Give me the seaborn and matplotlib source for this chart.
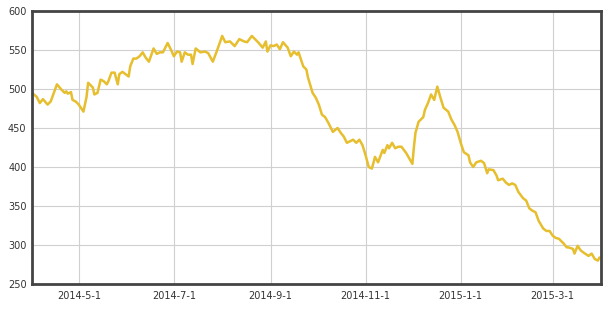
import matplotlib
matplotlib.use("Agg")
import matplotlib.pyplot as plt
import matplotlib.dates as mdates
import seaborn as sns
import pandas as pd

dates = [
    "2014-04-01", "2014-04-04", "2014-04-06", "2014-04-08", "2014-04-11", "2014-04-13",
    "2014-04-17", "2014-04-20", "2014-04-22", "2014-04-23", "2014-04-24", "2014-04-26",
    "2014-04-27", "2014-04-29", "2014-05-01", "2014-05-02", "2014-05-04", "2014-05-06",
    "2014-05-07", "2014-05-10", "2014-05-11", "2014-05-13", "2014-05-15", "2014-05-17",
    "2014-05-19", "2014-05-20", "2014-05-22", "2014-05-24", "2014-05-26", "2014-05-27",
    "2014-05-29", "2014-05-31", "2014-06-02", "2014-06-03", "2014-06-05", "2014-06-07",
    "2014-06-09", "2014-06-11", "2014-06-13", "2014-06-15", "2014-06-18", "2014-06-20",
    "2014-06-22", "2014-06-24", "2014-06-27", "2014-06-29", "2014-07-01", "2014-07-03",
    "2014-07-05", "2014-07-06", "2014-07-08", "2014-07-10", "2014-07-12", "2014-07-13",
    "2014-07-15", "2014-07-18", "2014-07-21", "2014-07-23", "2014-07-26", "2014-07-29",
    "2014-08-01", "2014-08-03", "2014-08-06", "2014-08-09", "2014-08-12", "2014-08-15",
    "2014-08-17", "2014-08-20", "2014-08-24", "2014-08-27", "2014-08-29", "2014-08-30",
    "2014-09-01", "2014-09-03", "2014-09-05", "2014-09-07", "2014-09-09", "2014-09-12",
    "2014-09-14", "2014-09-16", "2014-09-18", "2014-09-19", "2014-09-22", "2014-09-24",
    "2014-09-25", "2014-09-28", "2014-09-30", "2014-10-02", "2014-10-04", "2014-10-06",
    "2014-10-08", "2014-10-11", "2014-10-14", "2014-10-16", "2014-10-18", "2014-10-20",
    "2014-10-24", "2014-10-26", "2014-10-28", "2014-10-30", "2014-11-01", "2014-11-03",
    "2014-11-05", "2014-11-06", "2014-11-07", "2014-11-09", "2014-11-12", "2014-11-13",
    "2014-11-15", "2014-11-16", "2014-11-18", "2014-11-20", "2014-11-22", "2014-11-24",
    "2014-11-27", "2014-12-01", "2014-12-02", "2014-12-03", "2014-12-05", "2014-12-08",
    "2014-12-09", "2014-12-11", "2014-12-13", "2014-12-15", "2014-12-17", "2014-12-19",
    "2014-12-21", "2014-12-24", "2014-12-26", "2014-12-28", "2014-12-30", "2015-01-01",
    "2015-01-03", "2015-01-06", "2015-01-07", "2015-01-09", "2015-01-11", "2015-01-14",
    "2015-01-16", "2015-01-18", "2015-01-19", "2015-01-22", "2015-01-24", "2015-01-25",
    "2015-01-28", "2015-01-30", "2015-02-01", "2015-02-03", "2015-02-05", "2015-02-07",
    "2015-02-10", "2015-02-12", "2015-02-14", "2015-02-16", "2015-02-18", "2015-02-20",
    "2015-02-23", "2015-02-25", "2015-02-27", "2015-03-01", "2015-03-03", "2015-03-05",
    "2015-03-08", "2015-03-10", "2015-03-11", "2015-03-14", "2015-03-15", "2015-03-17",
    "2015-03-19", "2015-03-21", "2015-03-24", "2015-03-26", "2015-03-28", "2015-03-30",
    "2015-03-31",
]

values = [
    495, 490, 482, 487, 480, 484,
    506, 499, 495, 497, 494, 496,
    486, 484, 480, 477, 471, 490,
    508, 502, 493, 495, 512, 510,
    506, 510, 521, 521, 506, 519,
    522, 519, 516, 529, 539, 539,
    542, 547, 540, 535, 552, 545,
    547, 547, 559, 551, 542, 548,
    547, 535, 547, 544, 544, 532,
    552, 547, 548, 546, 535, 551,
    568, 560, 561, 555, 564, 561,
    560, 568, 560, 553, 561, 548,
    556, 555, 557, 551, 560, 553,
    542, 548, 544, 547, 529, 525,
    515, 495, 489, 480, 467, 464,
    457, 445, 450, 444, 439, 431,
    435, 431, 435, 428, 415, 400,
    398, 405, 413, 406, 422, 418,
    428, 424, 431, 424, 426, 426,
    418, 404, 426, 444, 458, 464,
    473, 482, 493, 486, 503, 489,
    476, 471, 461, 454, 445, 431,
    419, 415, 406, 400, 406, 408,
    405, 392, 397, 396, 389, 383,
    385, 380, 377, 379, 377, 368,
    360, 357, 347, 344, 342, 331,
    321, 318, 318, 312, 309, 308,
    302, 297, 297, 295, 289, 299,
    293, 290, 286, 289, 282, 280,
    284,
]

tick_dates = ["2014-05-01", "2014-07-01", "2014-09-01", "2014-11-01", "2015-01-01", "2015-03-01"]
tick_labels = ["2014-5-1", "2014-7-1", "2014-9-1", "2014-11-1", "2015-1-1", "2015-3-1"]
y_ticks = [250, 300, 350, 400, 450, 500, 550, 600]

df = pd.DataFrame({"date": pd.to_datetime(dates), "value": values})

sns.set_theme(style="white")
plt.rcParams["font.family"] = ["DejaVu Sans"]

fig = plt.figure(figsize=(6.06, 3.11), dpi=100)
ax = fig.add_axes([32 / 606, 1 - 284 / 311, (601 - 32) / 606, (284 - 11) / 311])

sns.lineplot(data=df, x="date", y="value", ax=ax, color="#E6BE2E", linewidth=1.8)

ax.set_xlim(pd.Timestamp("2014-04-01"), pd.Timestamp("2015-04-01"))
ax.set_ylim(250, 600)
ax.set_yticks(y_ticks)
ax.set_xticks(pd.to_datetime(tick_dates))
ax.set_xticklabels(tick_labels)
ax.grid(True, color="#d0d0d0", linewidth=0.8)
ax.set_axisbelow(True)
ax.set_xlabel("")
ax.set_ylabel("")
for s in ax.spines.values():
    s.set_color("#444444")
    s.set_linewidth(2)
ax.tick_params(axis="both", which="both", length=0, labelsize=7, colors="#333333", pad=5)
ax.tick_params(axis="y", pad=4)

fig.savefig("out.png", dpi=100)
